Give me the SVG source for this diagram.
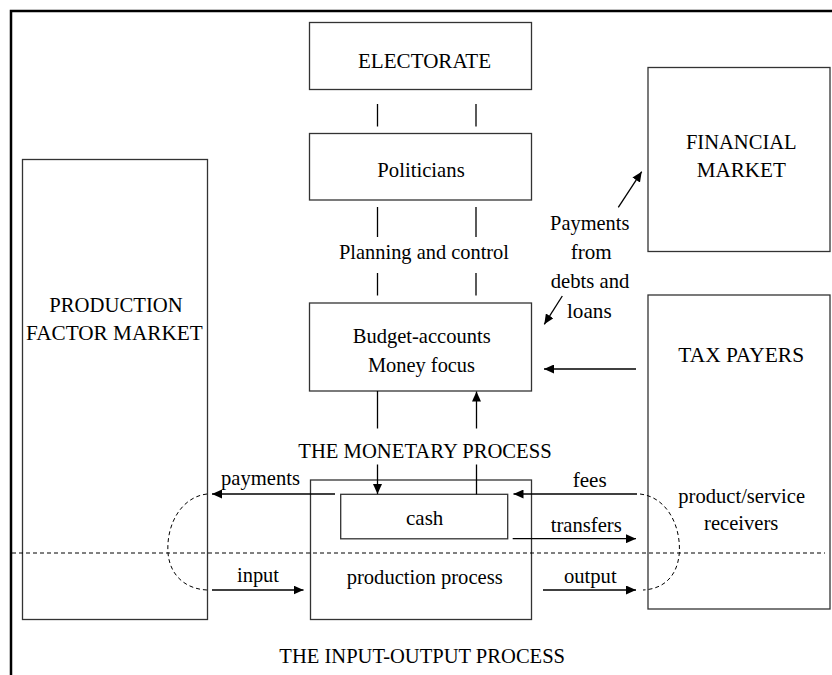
<svg xmlns="http://www.w3.org/2000/svg" width="832" height="675" viewBox="0 0 832 675">
<style>
.box{fill:#fff;stroke:#333;stroke-width:1.3}
.ln{fill:none;stroke:#000;stroke-width:1.3}
.dash{fill:none;stroke:#000;stroke-width:1;stroke-dasharray:4 3}
text{font-family:"Liberation Serif","Times New Roman",serif;font-size:22px;fill:#000;text-anchor:middle}
</style>
<defs>
<marker id="ah" markerUnits="userSpaceOnUse" markerWidth="11" markerHeight="9" refX="10" refY="4.5" orient="auto">
<path d="M0,0 L10,4.5 L0,9 z" fill="#000"/>
</marker>
</defs>
<rect width="832" height="675" fill="#fff"/>
<path d="M11,675 V11 H832" fill="none" stroke="#000" stroke-width="2.5"/>

<g id="electorate">
<rect class="box" x="309.5" y="22.5" width="222" height="67"/>
<text x="424.5" y="67.5" textLength="133" lengthAdjust="spacingAndGlyphs">ELECTORATE</text>
</g>
<g id="politicians">
<rect class="box" x="309.5" y="133.5" width="222" height="66.5"/>
<text x="421" y="176.7" textLength="87.4" lengthAdjust="spacingAndGlyphs">Politicians</text>
</g>
<g id="budget">
<rect class="box" x="309.5" y="303" width="222" height="88"/>
<text x="421.7" y="342.7" textLength="138" lengthAdjust="spacingAndGlyphs">Budget-accounts</text>
<text x="421.5" y="371.5" textLength="107" lengthAdjust="spacingAndGlyphs">Money focus</text>
</g>
<g id="financial-market">
<rect class="box" x="648" y="67.5" width="182" height="184"/>
<text x="741.3" y="149.3" textLength="110.7" lengthAdjust="spacingAndGlyphs">FINANCIAL</text>
<text x="741.3" y="177.3" textLength="89.3" lengthAdjust="spacingAndGlyphs">MARKET</text>
</g>
<g id="production-factor-market">
<rect class="box" x="22.5" y="159.5" width="185" height="460"/>
<text x="116" y="311.7" textLength="133.4" lengthAdjust="spacingAndGlyphs">PRODUCTION</text>
<text x="114.3" y="340" textLength="176.7" lengthAdjust="spacingAndGlyphs">FACTOR MARKET</text>
</g>
<g id="tax-payers">
<rect class="box" x="648" y="295" width="182" height="314"/>
<text x="741.2" y="361.7" textLength="125.7" lengthAdjust="spacingAndGlyphs">TAX PAYERS</text>
<text x="741.7" y="503.3" textLength="126.7" lengthAdjust="spacingAndGlyphs">product/service</text>
<text x="741.2" y="530" textLength="74.3" lengthAdjust="spacingAndGlyphs">receivers</text>
</g>
<g id="production-process">
<rect class="box" x="310.5" y="480" width="221" height="139.5"/>
<text x="424.7" y="584" textLength="156" lengthAdjust="spacingAndGlyphs">production process</text>
</g>
<g id="cash">
<rect class="box" x="340.7" y="494.3" width="167" height="44.5"/>
<text x="424.7" y="525" textLength="37.3" lengthAdjust="spacingAndGlyphs">cash</text>
</g>

<g id="labels">
<text x="424" y="259" textLength="170" lengthAdjust="spacingAndGlyphs">Planning and control</text>
<text x="589.7" y="230" textLength="79.3" lengthAdjust="spacingAndGlyphs">Payments</text>
<text x="591.2" y="259" textLength="41" lengthAdjust="spacingAndGlyphs">from</text>
<text x="590" y="288.3" textLength="78.6" lengthAdjust="spacingAndGlyphs">debts and</text>
<text x="589.3" y="317.7" textLength="44.7" lengthAdjust="spacingAndGlyphs">loans</text>
<text x="425" y="458.3" textLength="253.4" lengthAdjust="spacingAndGlyphs">THE MONETARY PROCESS</text>
<text x="260.5" y="485" textLength="79" lengthAdjust="spacingAndGlyphs">payments</text>
<text x="589.7" y="487" textLength="34" lengthAdjust="spacingAndGlyphs">fees</text>
<text x="586.2" y="531.7" textLength="71" lengthAdjust="spacingAndGlyphs">transfers</text>
<text x="258" y="582" textLength="42" lengthAdjust="spacingAndGlyphs">input</text>
<text x="590.3" y="582.7" textLength="52.7" lengthAdjust="spacingAndGlyphs">output</text>
<text x="422.2" y="662.7" textLength="285.7" lengthAdjust="spacingAndGlyphs">THE INPUT-OUTPUT PROCESS</text>
</g>

<g id="connectors">
<line class="ln" x1="377.5" y1="104" x2="377.5" y2="126.5"/>
<line class="ln" x1="476" y1="104" x2="476" y2="126.5"/>
<line class="ln" x1="377.5" y1="207" x2="377.5" y2="237"/>
<line class="ln" x1="476" y1="207" x2="476" y2="237"/>
<line class="ln" x1="377.5" y1="273" x2="377.5" y2="295.5"/>
<line class="ln" x1="476" y1="273" x2="476" y2="295.5"/>
<line class="ln" x1="377.5" y1="391" x2="377.5" y2="428.5"/>
<line class="ln" x1="476.5" y1="428.5" x2="476.5" y2="391.5" marker-end="url(#ah)"/>
<line class="ln" x1="377.5" y1="464.5" x2="377.5" y2="494" marker-end="url(#ah)"/>
<line class="ln" x1="476.5" y1="464.5" x2="476.5" y2="494.3"/>
<line class="ln" x1="636" y1="369" x2="544" y2="369" marker-end="url(#ah)"/>
<line class="ln" x1="618.3" y1="207.3" x2="641.7" y2="171.7" marker-end="url(#ah)"/>
<line class="ln" x1="562.3" y1="296" x2="544.3" y2="324.3" marker-end="url(#ah)"/>
<line class="ln" x1="335" y1="494" x2="212" y2="494" marker-end="url(#ah)"/>
<line class="ln" x1="637" y1="494" x2="513.5" y2="494" marker-end="url(#ah)"/>
<line class="ln" x1="512.7" y1="538.7" x2="636" y2="538.7" marker-end="url(#ah)"/>
<line class="ln" x1="212" y1="590" x2="303.5" y2="590" marker-end="url(#ah)"/>
<line class="ln" x1="543" y1="590" x2="636" y2="590" marker-end="url(#ah)"/>
<path class="dash" d="M207,494 C181,497 166,525 168,553 C170,576 186,589 207,590"/>
<path class="dash" d="M640,494 C667,497 681,526 679.3,553 C677.5,576 664,589 643,590"/>
<line class="dash" x1="12" y1="553" x2="825" y2="553"/>
</g>
</svg>
